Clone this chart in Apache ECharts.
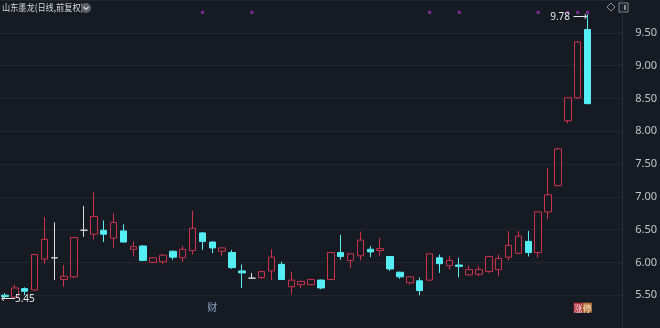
<!DOCTYPE html>
<html>
<head>
<meta charset="utf-8">
<script src="https://cdn.jsdelivr.net/npm/echarts@6/dist/echarts.min.js"></script>
<style>
html,body{margin:0;padding:0;background:#161a22;}
#c{width:660px;height:328px;}
</style>
</head>
<body>
<div id="c"></div>
<script>
// ---- data ----
const title = '山东墨龙(日线,前复权)';
const opens  = [5.50,5.47,5.60,5.58,6.05,6.07,5.74,5.78,6.49,6.43,6.49,6.37,6.48,6.20,6.25,6.00,6.01,6.17,6.07,6.18,6.45,6.31,6.17,6.15,5.87,5.76,5.77,5.87,5.97,5.63,5.66,5.66,5.73,5.74,6.15,6.03,6.10,6.20,6.18,6.09,5.85,5.69,5.72,5.73,6.07,5.95,5.96,5.81,5.82,5.86,5.89,6.08,6.14,6.32,6.15,6.77,7.17,8.16,8.51,9.55];
const closes = [5.48,5.61,5.56,6.12,6.35,6.07,5.79,6.38,6.49,6.70,6.43,6.61,6.31,6.24,6.03,6.07,6.11,6.08,6.20,6.52,6.32,6.22,6.22,5.92,5.84,5.76,5.86,6.08,5.74,5.73,5.71,5.74,5.61,6.15,6.09,6.13,6.34,6.16,6.21,5.90,5.78,5.78,5.57,6.13,5.98,6.03,5.94,5.89,5.89,6.09,6.06,6.26,6.40,6.15,6.77,7.03,7.73,8.51,9.36,8.42];
const lows   = [5.45,5.46,5.50,5.57,5.98,5.73,5.63,5.76,6.39,6.35,6.31,6.22,6.31,6.09,6.02,5.99,5.97,6.04,6.01,6.12,6.19,6.14,6.10,5.90,5.61,5.76,5.75,5.73,5.74,5.51,5.61,5.65,5.59,5.73,6.04,5.91,6.03,6.08,6.09,5.87,5.75,5.66,5.50,5.72,5.84,5.89,5.77,5.80,5.79,5.84,5.79,6.03,6.13,6.09,6.07,6.66,7.16,8.12,8.49,8.41];
const highs  = [5.53,5.66,5.62,6.13,6.69,6.61,5.96,6.38,6.86,7.07,6.64,6.75,6.58,6.32,6.26,6.08,6.12,6.18,6.25,6.79,6.46,6.32,6.23,6.19,5.97,5.84,5.87,6.20,6.01,5.86,5.72,5.75,5.74,6.15,6.42,6.14,6.47,6.25,6.37,6.10,5.86,5.79,5.77,6.13,6.12,6.10,6.07,5.95,5.94,6.10,6.12,6.48,6.48,6.48,6.78,7.44,7.75,8.52,9.37,9.78];
const emptySlots = 3;              // blank days to the right of the last candle
const markerIdx = [20,25,43,46,54,57,58,59]; // purple info dots at the top
const eventIdx  = [21,58];
const eventText = ['财','涨停'];
const yTicks = {min:5, max:10, interval:0.5};

// ---- build ----
const n = opens.length;
const categories = [];
for (let i = 0; i < n + emptySlots; i++) categories.push(String(i + 1));
const kData = opens.map((o,i)=>[o, closes[i], lows[i], highs[i]]);

const BG = '#161a22';
const UP = '#c9334c';
const DOWN = '#55eef5';
const chart = echarts.init(document.getElementById('c'), null, {renderer:'canvas'});

const TOP_Y = 9.81, BOTTOM_Y = 5.31;

const option = {
  backgroundColor: BG,
  animation: false,
  grid: {left: 0, right: 32, top: 0, bottom: -17},
  xAxis: {
    type: 'category', data: categories, boundaryGap: true,
    axisLine: {show:false}, axisTick:{show:false}, axisLabel:{show:false},
    splitLine:{show:false}
  },
  yAxis: {
    type: 'value', position: 'right', scale: true,
    min: yTicks.min, max: yTicks.max, interval: yTicks.interval,
    axisLine: {show:true, lineStyle:{color:'#2c303a', width:1}},
    axisTick: {show:false},
    splitLine: {show:true, lineStyle:{color:'#22262f', width:1}},
    axisLabel: {
      color:'#c4c6cc', fontSize:11, margin:13,
      fontFamily:'"Noto Sans", sans-serif',
      showMaxLabel:false, showMinLabel:false,
      formatter: v => v.toFixed(2)
    }
  },
  series: [
    {
      type: 'candlestick', name: 'k', data: kData, barWidth: 7,
      itemStyle: {
        color: BG, color0: DOWN,
        borderColor: UP, borderColor0: DOWN,
        borderColorDoji: '#dcdcdc', borderWidth: 1
      },
      markPoint: {
        symbol: 'circle', symbolSize: 0, silent: true,
        data: [
          {type:'max', valueDim:'highest',
           label:{show:true, position:'left', distance:1, offset:[0,3], color:'#e8e8e8', fontSize:10,
                  fontFamily:'"Noto Sans", sans-serif',
                  formatter: p => p.value.toFixed(2) + ' ⟶'}},
          {type:'min', valueDim:'lowest',
           label:{show:true, position:'right', distance:0, offset:[-4,1], color:'#e8e8e8', fontSize:10,
                  fontFamily:'"Noto Sans", sans-serif',
                  formatter: p => '⟵' + p.value.toFixed(2)}}
        ].concat(eventIdx.map((idx,k)=>({
          coord:[idx, BOTTOM_Y], value: eventText[k],
          label: k === 0 ? {
            show:true, position:'inside', color:'#8ea4c4', fontSize:10,
            fontFamily:'"Noto Sans CJK SC", sans-serif', formatter: eventText[k]
          } : {
            show:true, position:'inside', offset:[5,0],
            fontFamily:'"Noto Sans CJK SC", sans-serif',
            formatter: '{a|' + eventText[k][0] + '}{b|' + eventText[k][1] + '}',
            rich:{
              a:{backgroundColor:'#b8343f', color:'#f3d0d0', fontSize:9, padding:[1,0,0,0]},
              b:{backgroundColor:'#b8783a', color:'#f5e0c8', fontSize:9, padding:[1,0,0,0]}
            }
          }
        })))
      }
    },
    {
      type: 'scatter', name: 'info', symbol: 'rect', symbolSize: 3,
      itemStyle: {color:'#9a2fb0'}, silent: true,
      data: markerIdx.map(i => [i, TOP_Y])
    }
  ],
  graphic: [
    {type:'text', x:2, y:3, scaleX:0.86, style:{text:title, fill:'#d6d7da', fontSize:9.5, fontFamily:'"Noto Sans CJK SC", sans-serif'}},
    {type:'circle', shape:{cx:86, cy:8, r:5}, style:{fill:'#5e6169'}},
    {type:'polyline', shape:{points:[[83.5,7],[86,9.5],[88.5,7]]}, style:{stroke:'#d8d8d8', lineWidth:1.2, fill:null}},
    {type:'polygon', shape:{points:[[611,3],[615,7],[611,11],[607,7]]}, style:{stroke:'#8a8d94', lineWidth:1, fill:null}},
    {type:'rect', shape:{x:619, y:3, width:9, height:9}, style:{stroke:'#8a8d94', lineWidth:1, fill:null}},
    {type:'rect', shape:{x:624, y:5, width:2, height:5}, style:{fill:'#8a8d94'}}
  ]
};
chart.setOption(option);
</script>
</body>
</html>
